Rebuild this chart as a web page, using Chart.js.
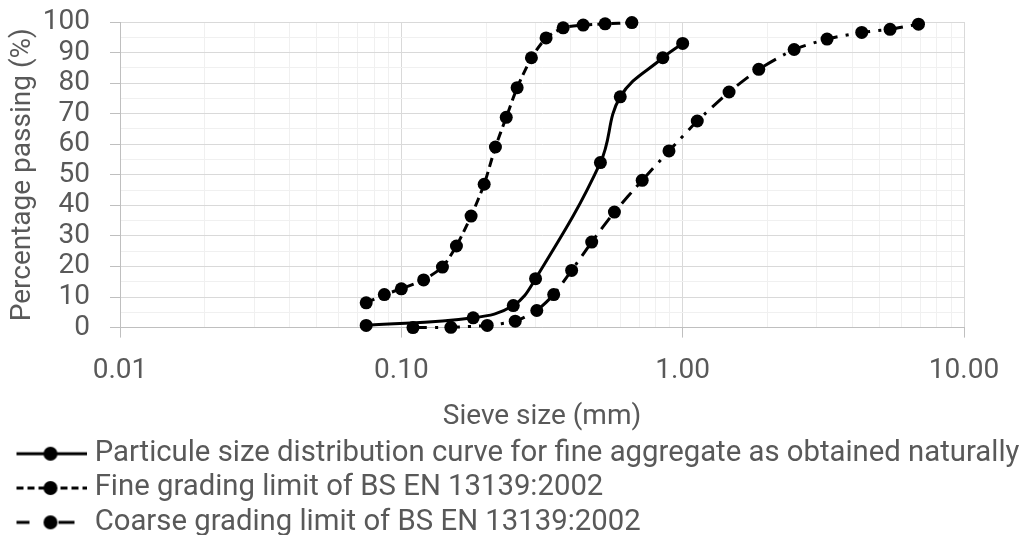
<!DOCTYPE html>
<html>
<head>
<meta charset="utf-8">
<script src="https://cdn.jsdelivr.net/npm/chart.js@4.4.1/dist/chart.umd.min.js"></script>
<style>
  html, body { margin: 0; padding: 0; background: #fff; }
  #wrap { width: 1026px; height: 535px; }
</style>
</head>
<body>
<div id="wrap"><canvas id="chart"></canvas></div>
<script>
// sieve sizes (mm) and % passing
const naturalSize = [0.075, 0.18, 0.25, 0.30, 0.51, 0.60, 0.85, 1.00];
const naturalPassing = [0.7, 3.2, 7.2, 16.0, 54.0, 75.5, 88.3, 93.0];

const fineSize = [0.075, 0.087, 0.10, 0.12, 0.14, 0.157, 0.177, 0.197, 0.216, 0.236, 0.258, 0.29, 0.327, 0.376, 0.443, 0.53, 0.66];
const finePassing = [8.1, 10.8, 12.7, 15.6, 19.8, 26.7, 36.5, 46.9, 59.1, 68.8, 78.5, 88.3, 94.8, 98.1, 99.0, 99.4, 99.8];

const coarseSize = [0.11, 0.15, 0.202, 0.254, 0.303, 0.348, 0.403, 0.475, 0.572, 0.718, 0.894, 1.127, 1.462, 1.864, 2.49, 3.26, 4.33, 5.46, 6.89];
const coarsePassing = [0, 0.1, 0.7, 2.1, 5.6, 10.8, 18.7, 28.0, 37.8, 48.2, 57.8, 67.6, 77.1, 84.5, 91.0, 94.4, 96.6, 97.6, 99.3];

const seriesNames = [
    'Particule size distribution curve for fine aggregate as obtained naturally',
    'Fine grading limit of BS EN 13139:2002',
    'Coarse grading limit of BS EN 13139:2002'
];
const xTickLabels = ['0.01', '0.10', '1.00', '10.00'];

const TEXT = '#595959';
const GRID_MAJOR = '#d9d9d9';
const GRID_MINOR = '#f0f0f0';
const AXIS = '#bfbfbf';

const dashes = [[], [9, 5], [14, 8, 3, 8]];

Chart.defaults.font.family = 'Roboto';
Chart.defaults.font.size = 28;
Chart.defaults.color = TEXT;

function toPoints(xs, ys) {
    return xs.map((x, i) => ({x: x, y: ys[i]}));
}

function isDecade(v) {
    const l = Math.log10(v);
    return Math.abs(l - Math.round(l)) < 1e-6;
}

// little line + marker picture for the legend
function legendSymbol(i) {
    const c = document.createElement('canvas');
    c.width = 88;
    c.height = 20;
    const g = c.getContext('2d');
    g.strokeStyle = '#000';
    g.fillStyle = '#000';
    g.lineWidth = 3;
    if (i === 2) {
        g.fillRect(18, 8.5, 13, 3);
        g.fillRect(60, 8.5, 16, 3);
    } else {
        g.setLineDash(i === 1 ? [7, 4] : []);
        g.beginPath();
        g.moveTo(18, 10);
        g.lineTo(88, 10);
        g.stroke();
    }
    g.beginPath();
    g.arc(52, 10, 7, 0, Math.PI * 2);
    g.fill();
    return c;
}

function makeDataset(i, xs, ys, tension) {
    return {
        label: seriesNames[i],
        data: toPoints(xs, ys),
        borderColor: '#000',
        backgroundColor: '#000',
        borderWidth: 3,
        borderDash: dashes[i],
        tension: tension,
        pointRadius: 6.5,
        pointBorderWidth: 0,
        pointBackgroundColor: '#000',
        clip: false
    };
}

const ctx = document.getElementById('chart').getContext('2d');

let chart = new Chart(ctx, {
    type: 'line',
    data: {
        datasets: [
            makeDataset(0, naturalSize, naturalPassing, 0.4),
            makeDataset(1, fineSize, finePassing, 0.2),
            makeDataset(2, coarseSize, coarsePassing, 0.2)
        ]
    },
    options: {
        responsive: true,
        maintainAspectRatio: false,
        animation: false,
        layout: {padding: {top: 22, right: 0, bottom: -12, left: 0}},
        plugins: {
            tooltip: {enabled: false},
            legend: {
                position: 'bottom',
                align: 'start',
                labels: {
                    usePointStyle: true,
                    pointStyleWidth: 75,
                    padding: 5,
                    color: TEXT,
                    font: {size: 29.3},
                    generateLabels: (c) => c.data.datasets.map((ds, i) => ({
                        text: ds.label,
                        pointStyle: legendSymbol(i),
                        fillStyle: '#000',
                        strokeStyle: '#000',
                        lineWidth: 0,
                        hidden: false,
                        datasetIndex: i,
                        fontColor: TEXT
                    }))
                }
            }
        },
        scales: {
            x: {
                type: 'logarithmic',
                min: 0.01,
                max: 10,
                afterBuildTicks: (scale) => {
                    const vals = [];
                    for (let e = -2; e <= 0; e++) {
                        for (let m = 1; m <= 9; m++) {
                            vals.push(+(m * Math.pow(10, e)).toFixed(4));
                        }
                    }
                    vals.push(10);
                    scale.ticks = vals.map(v => ({value: v}));
                },
                afterFit: (scale) => { scale.height = 106.5; },
                ticks: {
                    autoSkip: false,
                    maxRotation: 0,
                    padding: 17,
                    callback: (v) => {
                        if (!isDecade(v)) return '';
                        return xTickLabels[Math.round(Math.log10(v)) + 2];
                    }
                },
                grid: {
                    color: (c) => isDecade(c.tick.value) ? GRID_MAJOR : GRID_MINOR,
                    tickColor: (c) => isDecade(c.tick.value) ? AXIS : 'rgba(0,0,0,0)',
                    tickLength: 10,
                    lineWidth: 1
                },
                border: {color: AXIS},
                title: {
                    display: true,
                    text: 'Sieve size (mm)',
                    color: TEXT,
                    padding: {top: 0, bottom: 0}
                }
            },
            y: {
                min: 0,
                max: 100,
                afterBuildTicks: (scale) => {
                    const vals = [];
                    for (let v = 0; v <= 100; v += 5) vals.push(v);
                    scale.ticks = vals.map(v => ({value: v}));
                },
                afterFit: (scale) => {
                    scale.width = 120;
                    scale.paddingTop = 0;
                    scale.paddingBottom = 0;
                },
                ticks: {
                    autoSkip: false,
                    padding: 20,
                    callback: (v) => v % 10 === 0 ? v : ''
                },
                grid: {
                    color: (c) => c.tick.value % 10 === 0 ? GRID_MAJOR : GRID_MINOR,
                    tickColor: (c) => c.tick.value % 10 === 0 ? AXIS : 'rgba(0,0,0,0)',
                    tickLength: 10,
                    lineWidth: 1
                },
                border: {color: AXIS},
                title: {
                    display: true,
                    text: 'Percentage passing (%)',
                    color: TEXT,
                    padding: {top: 6, bottom: 0}
                }
            },
            // empty right-hand strip, keeps the plot off the right edge
            // without narrowing the legend
            spacer: {
                position: 'right',
                min: 0,
                max: 100,
                ticks: {display: false},
                grid: {display: false, drawTicks: false},
                border: {display: false},
                afterFit: (scale) => {
                    scale.width = 62;
                    scale.paddingTop = 0;
                    scale.paddingBottom = 0;
                }
            }
        }
    }
});
</script>
</body>
</html>
